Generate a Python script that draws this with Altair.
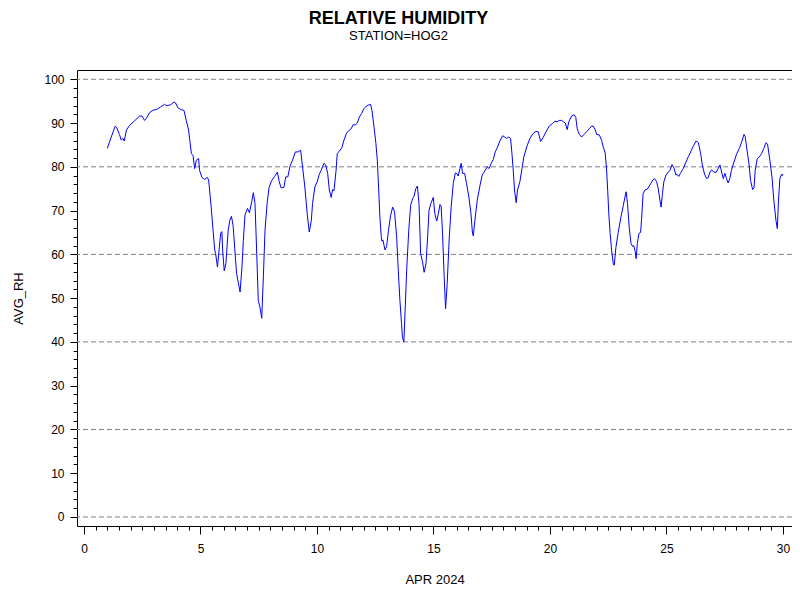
import pandas as pd
import altair as alt

# hourly-ish readings (day of April, %)
DAY = [
    1.0, 1.17, 1.34, 1.4, 1.52, 1.6, 1.67, 1.73, 1.82, 1.96, 2.17, 2.39, 2.49, 2.6, 2.67, 2.82,
    2.96, 3.15, 3.29, 3.46, 3.53, 3.68, 3.75, 3.86, 3.93, 4.03, 4.15, 4.29, 4.39, 4.49, 4.61,
    4.68, 4.75, 4.82, 4.92, 4.96, 5.06, 5.18, 5.29, 5.35, 5.46, 5.54, 5.61, 5.65, 5.73, 5.81,
    5.87, 5.92, 5.95, 6.02, 6.09, 6.19, 6.26, 6.33, 6.4, 6.47, 6.55, 6.6, 6.7, 6.78, 6.84,
    6.91, 7.02, 7.1, 7.2, 7.27, 7.34, 7.41, 7.48, 7.55, 7.63, 7.7, 7.77, 7.86, 7.94, 8.05,
    8.18, 8.3, 8.38, 8.46, 8.58, 8.66, 8.75, 8.84, 8.95, 9.07, 9.19, 9.3, 9.38, 9.48, 9.58,
    9.67, 9.76, 9.81, 9.91, 10.01, 10.1, 10.18, 10.3, 10.37, 10.46, 10.53, 10.61, 10.67,
    10.73, 10.82, 10.87, 10.99, 11.07, 11.16, 11.27, 11.39, 11.47, 11.56, 11.63, 11.73, 11.82,
    11.92, 12.02, 12.13, 12.3, 12.36, 12.45, 12.53, 12.59, 12.65, 12.7, 12.76, 12.79, 12.83,
    12.92, 12.99, 13.07, 13.16, 13.25, 13.33, 13.42, 13.49, 13.56, 13.63, 13.67, 13.73, 13.79,
    13.85, 13.94, 14.02, 14.11, 14.17, 14.24, 14.31, 14.38, 14.45, 14.53, 14.6, 14.68, 14.75,
    14.81, 14.89, 14.99, 15.06, 15.14, 15.21, 15.28, 15.33, 15.39, 15.46, 15.52, 15.59, 15.68,
    15.76, 15.85, 15.94, 16.0, 16.06, 16.14, 16.19, 16.25, 16.34, 16.42, 16.52, 16.61, 16.67,
    16.71, 16.78, 16.88, 17.0, 17.09, 17.21, 17.31, 17.39, 17.48, 17.57, 17.65, 17.75, 17.85,
    17.97, 18.06, 18.14, 18.23, 18.31, 18.37, 18.43, 18.48, 18.55, 18.61, 18.71, 18.8, 18.88,
    19.0, 19.14, 19.28, 19.4, 19.5, 19.6, 19.71, 19.83, 19.97, 20.11, 20.21, 20.31, 20.4, 20.5,
    20.58, 20.66, 20.74, 20.81, 20.93, 21.04, 21.11, 21.17, 21.26, 21.36, 21.46, 21.57, 21.69,
    21.79, 21.86, 21.95, 22.0, 22.12, 22.22, 22.29, 22.37, 22.43, 22.48, 22.53, 22.58, 22.65,
    22.72, 22.76, 22.83, 22.93, 23.05, 23.15, 23.22, 23.27, 23.33, 23.4, 23.48, 23.55, 23.6,
    23.66, 23.7, 23.75, 23.82, 23.89, 23.93, 24.0, 24.08, 24.18, 24.26, 24.33, 24.42, 24.49,
    24.58, 24.65, 24.72, 24.77, 24.83, 24.89, 24.98, 25.08, 25.15, 25.24, 25.32, 25.41, 25.46,
    25.53, 25.6, 25.72, 25.84, 25.94, 26.04, 26.15, 26.27, 26.37, 26.47, 26.55, 26.64, 26.72,
    26.79, 26.87, 26.94, 27.04, 27.13, 27.22, 27.3, 27.37, 27.44, 27.51, 27.58, 27.65, 27.72,
    27.79, 27.9, 28.01, 28.13, 28.23, 28.33, 28.38, 28.47, 28.55, 28.61, 28.7, 28.76, 28.81,
    28.9, 28.98, 29.08, 29.18, 29.27, 29.34, 29.44, 29.53, 29.61, 29.7, 29.76, 29.81, 29.87,
    29.94, 29.98, 30.0,
]
AVG_RH = [
    84.2, 86.8, 89.3, 89.0, 87.4, 86.1, 86.5, 85.9, 88.4, 89.5, 90.5, 91.6, 91.6, 90.6, 91.0, 92.4,
    92.9, 93.2, 93.7, 94.3, 94.0, 94.1, 94.3, 94.8, 94.6, 93.5, 93.1, 92.9, 90.6, 88.4, 83.0,
    82.6, 79.6, 81.5, 81.9, 79.2, 77.6, 77.1, 77.6, 77.0, 70.8, 65.5, 61.0, 60.2, 57.1, 61.7,
    64.9, 65.2, 61.0, 56.2, 57.9, 65.5, 67.8, 68.7, 66.6, 61.4, 55.6, 54.2, 51.4, 57.1, 63.2,
    69.0, 70.5, 69.5, 72.0, 74.1, 71.6, 61.0, 49.5, 48.0, 45.4, 55.0, 65.5, 71.6, 75.2, 76.8,
    77.8, 78.8, 76.6, 75.2, 75.3, 77.7, 77.7, 80.1, 81.5, 83.4, 83.4, 83.8, 80.0, 75.4, 69.3,
    65.1, 67.8, 71.6, 75.4, 76.6, 78.3, 79.2, 80.8, 80.5, 78.5, 74.7, 73.0, 74.8,
    74.5, 79.2, 83.0, 83.8, 84.4, 86.1, 87.7, 88.4, 88.7, 89.7, 89.5, 90.0, 91.4,
    92.2, 93.3, 93.9, 94.3, 92.9, 89.1, 85.3, 81.5, 74.7, 68.6, 64.0, 63.0, 63.3,
    61.0, 61.8, 65.5, 68.9, 70.8, 69.7, 64.0, 56.4, 49.5, 44.2, 41.0, 40.0, 48.0,
    56.4, 65.5, 71.2, 72.8, 73.3, 75.0, 75.6, 71.6, 60.2, 58.3, 55.9, 57.9, 64.0,
    70.1, 71.6, 73.0, 69.3, 67.6, 69.3, 71.4, 71.0, 64.8, 54.9, 47.6, 53.3, 64.0,
    70.8, 76.2, 78.6, 78.5, 77.9, 79.6, 80.8, 78.5, 78.5, 76.2, 73.1, 69.3, 65.1,
    64.2, 67.8, 72.4, 75.8, 78.1, 79.1, 80.0, 79.6, 80.8, 81.7, 83.4, 84.5, 85.9,
    87.1, 86.8, 86.5, 86.8, 86.5, 83.0, 78.8, 74.7, 71.8, 74.7, 76.6, 79.6, 82.3,
    84.5, 86.5, 87.6, 88.1, 88.0, 85.8, 86.7, 88.0, 89.3, 89.9, 90.4, 90.3, 90.6, 90.6,
    90.3, 90.0, 88.5, 90.3, 91.6, 91.9, 91.3, 88.7, 87.4, 86.8, 87.4, 88.0, 88.7,
    89.3, 89.3, 88.4, 87.4, 87.3, 86.0, 84.5, 83.2, 79.5, 74.5, 69.0, 65.0, 60.8,
    57.8, 57.5, 61.5, 65.0, 68.6, 71.2, 73.1, 74.3, 71.6, 66.3, 62.5, 61.8, 62.0,
    60.6, 59.0, 62.5, 64.8, 65.0, 67.8, 73.9, 74.7, 74.9, 75.6, 76.2, 77.0, 77.3,
    76.6, 75.0, 72.4, 70.8, 73.9, 76.6, 78.1, 78.8, 79.2, 80.5, 79.8, 78.1, 78.3,
    77.8, 78.5, 79.6, 81.1, 82.3, 83.4, 84.7, 85.9, 85.5, 83.0, 80.1, 78.3, 77.3,
    77.5, 78.8, 79.3, 78.8, 78.7, 79.6, 80.4, 78.8, 77.3, 78.5, 77.3, 76.3, 77.3,
    79.2, 81.1, 82.9, 84.2, 85.7, 87.4, 86.9, 83.4, 80.4, 76.9, 74.8, 75.2, 79.2,
    81.9, 82.2, 83.0, 84.2, 85.5, 85.2, 81.5, 77.7, 72.4, 67.8, 65.9, 72.4, 77.3,
    78.3, 78.0, 78.3,
]

GRID_LEVELS = [0, 20, 40, 60, 80, 100]
Y_MAJOR = list(range(0, 101, 10))
Y_MINOR = list(range(0, 101, 2))
X_MAJOR = list(range(0, 31, 5))
X_MINOR = [i / 2 for i in range(0, 61)]

FONT = "Liberation Sans"

rh = pd.DataFrame({"DAY": DAY, "AVG_RH": AVG_RH})
grid = pd.DataFrame({"LEVEL": GRID_LEVELS})

x_scale = alt.Scale(domain=[-0.3, 30.39], nice=False, zero=False)
y_scale = alt.Scale(domain=[-2.06, 102.12], nice=False, zero=False)

# dashed reference lines, carrying the labelled y axis
grid_lines = alt.Chart(grid).mark_rule(color="#808080", strokeDash=[5, 3], strokeWidth=1).encode(
    y=alt.Y("LEVEL:Q", scale=y_scale,
            axis=alt.Axis(values=Y_MAJOR, tickSize=7, labelPadding=6, format="d",
                          title="AVG_RH", titlePadding=18, orient="left"))
)

# the humidity trace, carrying the labelled x axis and the minor y ticks
trace = alt.Chart(rh).mark_line(color="#0000FF", strokeWidth=1).encode(
    x=alt.X("DAY:Q", scale=x_scale,
            axis=alt.Axis(values=X_MAJOR, tickSize=8, labelPadding=9, format="d",
                          title="APR 2024", titlePadding=19, orient="bottom")),
    y=alt.Y("AVG_RH:Q", scale=y_scale,
            axis=alt.Axis(values=Y_MINOR, tickSize=4, labels=False, title="", orient="left"))
)

# invisible copy, only there for the minor x ticks
minor_x = alt.Chart(rh).mark_line(opacity=0).encode(
    x=alt.X("DAY:Q", scale=x_scale,
            axis=alt.Axis(values=X_MINOR, tickSize=4, labels=False, title="", orient="bottom")),
    y=alt.Y("AVG_RH:Q", scale=y_scale, axis=None)
)

chart = alt.layer(grid_lines, trace, minor_x).resolve_axis(
    x="independent", y="independent"
).properties(
    width=715,
    height=456,
    autosize=alt.AutoSizeParams(type="none"),
    padding={"left": 69, "top": 62, "right": 0, "bottom": 64},
    title=alt.TitleParams("RELATIVE HUMIDITY", subtitle="STATION=HOG2", anchor="middle",
                          dx=-36, offset=27, subtitlePadding=2),
).configure_view(
    stroke="black", strokeWidth=1
).configure_axis(
    domain=False, grid=False, labelFont=FONT, labelFontSize=12, labelColor="black",
    titleFont=FONT, titleFontSize=13, titleFontWeight="normal", titleColor="black",
    tickColor="black", tickWidth=1
).configure_title(
    font=FONT, fontSize=18, fontWeight="bold", color="black",
    subtitleFont=FONT, subtitleFontSize=13, subtitleColor="black"
)

chart.save("out.html", embed_options={"renderer": "svg", "actions": False})
